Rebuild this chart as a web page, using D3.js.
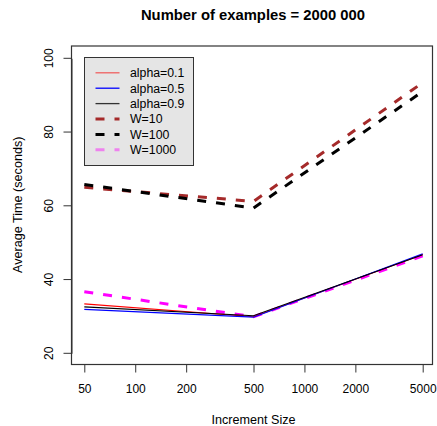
<!DOCTYPE html>
<html>
<head>
<meta charset="utf-8">
<script src="https://cdn.jsdelivr.net/npm/d3@7"></script>
<style>
  body { margin: 0; background: #fff; }
  text { font-family: "Liberation Sans", Arial, sans-serif; }
</style>
</head>
<body>
<div id="chart"></div>
<script>
// Data
var incrementSizes = [50, 500, 5000];
var xTicks = [50, 100, 200, 500, 1000, 2000, 5000];
var yTicks = [20, 40, 60, 80, 100];

var seriesNames = ["alpha=0.1", "alpha=0.5", "alpha=0.9", "W=10", "W=100", "W=1000"];
var alpha01 = [33.4, 29.9, 46.8];
var alpha05 = [31.9, 29.8, 47.0];
var alpha09 = [32.6, 30.2, 46.7];
var w10 = [65.0, 61.2, 93.4];
var w100 = [65.8, 59.4, 91.0];
var w1000 = [36.7, 29.9, 46.4];

var series = [
  { name: seriesNames[0], values: alpha01, color: "red", legendColor: "#f06060", dashed: false },
  { name: seriesNames[1], values: alpha05, color: "blue", legendColor: "blue", dashed: false },
  { name: seriesNames[2], values: alpha09, color: "black", legendColor: "#333", dashed: false },
  { name: seriesNames[3], values: w10, color: "#a52a2a", legendColor: "#a52a2a", dashed: true },
  { name: seriesNames[4], values: w100, color: "black", legendColor: "black", dashed: true },
  { name: seriesNames[5], values: w1000, color: "magenta", legendColor: "violet", dashed: true }
];

var width = 437, height = 426;
var box = { left: 71, top: 45.5, right: 432, bottom: 364 };

var svg = d3.select("#chart").append("svg")
  .attr("width", width)
  .attr("height", height);

var x = d3.scaleLog().domain([50, 5000]).range([84.3, 422.7]);
var y = d3.scaleLinear().domain([20, 100]).range([353.3, 58.3]);

var line = d3.line()
  .x(function (d) { return x(d.size); })
  .y(function (d) { return y(d.value); });

// lines
var draw = series.slice(3).concat(series.slice(0, 3));
draw.forEach(function (s) {
  var pts = incrementSizes.map(function (size, i) {
    return { size: size, value: s.values[i] };
  });
  svg.append("path")
    .attr("d", line(pts))
    .attr("fill", "none")
    .attr("stroke", s.color)
    .attr("stroke-width", s.dashed ? 3 : 1.1)
    .attr("stroke-dasharray", s.dashed ? "9,10" : null);
});

// box
svg.append("rect")
  .attr("x", box.left + 0.5)
  .attr("y", box.top + 0.5)
  .attr("width", box.right - box.left)
  .attr("height", box.bottom - box.top)
  .attr("fill", "none")
  .attr("stroke", "#333")
  .attr("stroke-width", 1.2);

// x axis
var xAxis = svg.append("g")
  .attr("transform", "translate(0," + (box.bottom + 0.5) + ")")
  .call(d3.axisBottom(x).tickValues(xTicks).tickFormat(d3.format("d")).tickSize(8).tickPadding(12));
xAxis.select(".domain").remove();
xAxis.selectAll("line").attr("stroke", "#333");
xAxis.selectAll("text")
  .attr("fill", "#000")
  .style("font-size", "12px")
  .style("font-family", "Liberation Sans, Arial, sans-serif");

// y axis
var yAxis = svg.append("g")
  .attr("transform", "translate(" + (box.left + 0.5) + ",0)")
  .call(d3.axisLeft(y).tickValues(yTicks).tickSize(8).tickSizeOuter(0));
yAxis.select(".domain").attr("stroke", "#333");
yAxis.selectAll("line").attr("stroke", "#333");
yAxis.selectAll("text")
  .attr("fill", "#000")
  .attr("transform", function (d) { return "translate(-23," + y(d) + ") rotate(-90)"; })
  .attr("x", 0)
  .attr("y", 0)
  .attr("dy", "0.35em")
  .attr("text-anchor", "middle")
  .style("font-size", "12px")
  .style("font-family", "Liberation Sans, Arial, sans-serif");
yAxis.selectAll(".tick").attr("transform", null);
yAxis.selectAll(".tick line")
  .attr("y1", function (d) { return y(d); })
  .attr("y2", function (d) { return y(d); });

// titles
svg.append("text")
  .attr("x", 253)
  .attr("y", 20)
  .attr("text-anchor", "middle")
  .style("font-size", "14.8px")
  .style("font-weight", "bold")
  .text("Number of examples = 2000 000");

svg.append("text")
  .attr("x", 253.5)
  .attr("y", 424)
  .attr("text-anchor", "middle")
  .style("font-size", "12.6px")
  .text("Increment Size");

svg.append("text")
  .attr("transform", "translate(22," + ((box.top + box.bottom) / 2) + ") rotate(-90)")
  .attr("text-anchor", "middle")
  .style("font-size", "12.6px")
  .text("Average Time (seconds)");

// legend
var legend = svg.append("g").attr("transform", "translate(84.5,57.5)");
legend.append("rect")
  .attr("width", 109)
  .attr("height", 108)
  .attr("fill", "#e5e5e5")
  .attr("stroke", "#333")
  .attr("stroke-width", 1);

var items = legend.selectAll(".legend-item")
  .data(series)
  .enter()
  .append("g")
  .attr("class", "legend-item")
  .attr("transform", function (d, i) { return "translate(0," + (15.3 + i * 15.4) + ")"; });

items.append("line")
  .attr("x1", 11)
  .attr("x2", 35)
  .attr("stroke", function (d) { return d.legendColor; })
  .attr("stroke-width", function (d) { return d.dashed ? 3 : 1.3; })
  .attr("stroke-dasharray", function (d) { return d.dashed ? "9,10" : null; });

items.append("text")
  .attr("x", 45.5)
  .attr("dy", "0.35em")
  .style("font-size", "12.3px")
  .text(function (d) { return d.name; });
</script>
</body>
</html>
